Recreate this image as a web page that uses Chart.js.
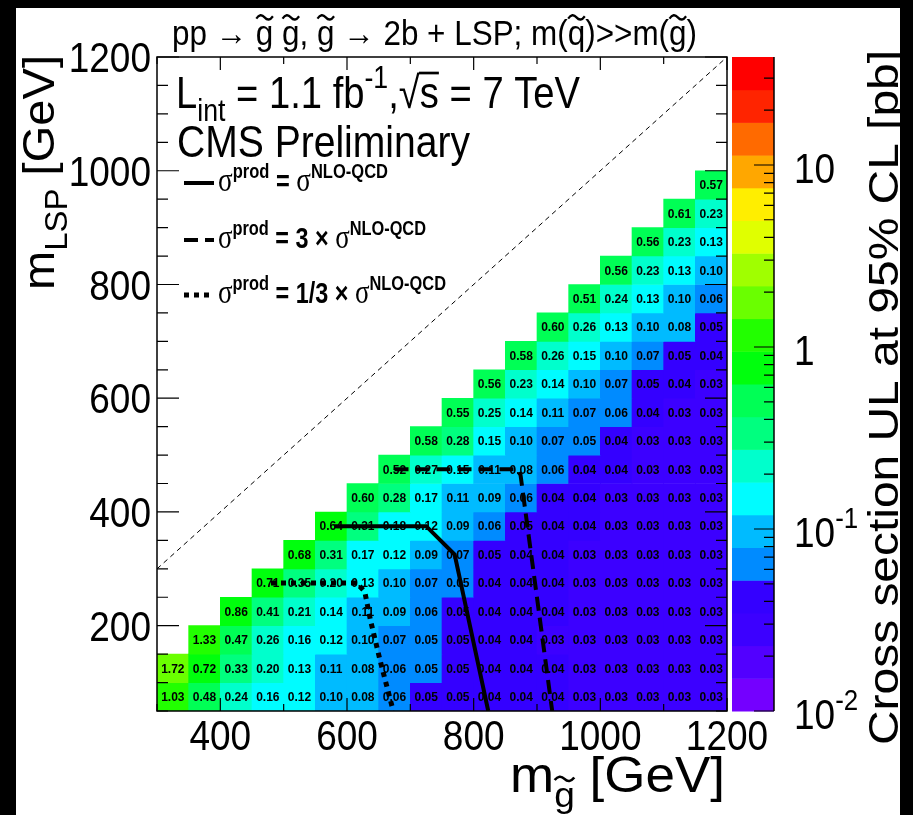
<!DOCTYPE html>
<html>
<head>
<meta charset="utf-8">
<script src="https://cdn.jsdelivr.net/npm/chart.js@4.4.1/dist/chart.umd.min.js"></script>
<style>
  html, body { margin: 0; padding: 0; background: #000; }
  canvas { display: block; }
</style>
</head>
<body>
<canvas id="ulChart" width="913" height="815"></canvas>
<script>
// gluino / LSP mass bin centres in GeV, bins are 50 GeV wide
const gluinoMass = [325, 375, 425, 475, 525, 575, 625, 675, 725, 775, 825, 875, 925, 975, 1025, 1075, 1125, 1175];
const lspMass = [75, 125, 175, 225, 275, 325, 375, 425, 475, 525, 575, 625, 675, 725, 775, 825, 875, 925, 975];
const binWidth = 50;

// cross section UL [pb], one row per LSP mass (bottom to top), one column per gluino mass
// (a few printed "0.05" cells are coloured like 0.06 in the reference, so they sit just above 0.05)
const _ = null;
const upperLimit = [
  [1.03, 0.48, 0.24, 0.16, 0.12, 0.10, 0.08, 0.06, 0.05, 0.05, 0.04, 0.04, 0.04, 0.03, 0.03, 0.03, 0.03, 0.03],
  [1.72, 0.72, 0.33, 0.20, 0.13, 0.11, 0.08, 0.06, 0.053, 0.05, 0.04, 0.04, 0.04, 0.03, 0.03, 0.03, 0.03, 0.03],
  [_, 1.33, 0.47, 0.26, 0.16, 0.12, 0.10, 0.07, 0.053, 0.05, 0.04, 0.04, 0.03, 0.03, 0.03, 0.03, 0.03, 0.03],
  [_, _, 0.86, 0.41, 0.21, 0.14, 0.11, 0.09, 0.06, 0.05, 0.04, 0.04, 0.04, 0.03, 0.03, 0.03, 0.03, 0.03],
  [_, _, _, 0.71, 0.35, 0.20, 0.13, 0.10, 0.07, 0.053, 0.04, 0.04, 0.04, 0.03, 0.03, 0.03, 0.03, 0.03],
  [_, _, _, _, 0.68, 0.31, 0.17, 0.12, 0.09, 0.07, 0.05, 0.04, 0.04, 0.03, 0.03, 0.03, 0.03, 0.03],
  [_, _, _, _, _, 0.64, 0.31, 0.18, 0.12, 0.09, 0.06, 0.05, 0.04, 0.04, 0.03, 0.03, 0.03, 0.03],
  [_, _, _, _, _, _, 0.60, 0.28, 0.17, 0.11, 0.09, 0.06, 0.04, 0.04, 0.03, 0.03, 0.03, 0.03],
  [_, _, _, _, _, _, _, 0.52, 0.27, 0.15, 0.11, 0.08, 0.06, 0.04, 0.04, 0.03, 0.03, 0.03],
  [_, _, _, _, _, _, _, _, 0.58, 0.28, 0.15, 0.10, 0.07, 0.053, 0.04, 0.03, 0.03, 0.03],
  [_, _, _, _, _, _, _, _, _, 0.55, 0.25, 0.14, 0.11, 0.07, 0.06, 0.04, 0.03, 0.03],
  [_, _, _, _, _, _, _, _, _, _, 0.56, 0.23, 0.14, 0.10, 0.07, 0.05, 0.04, 0.03],
  [_, _, _, _, _, _, _, _, _, _, _, 0.58, 0.26, 0.15, 0.10, 0.07, 0.05, 0.04],
  [_, _, _, _, _, _, _, _, _, _, _, _, 0.60, 0.26, 0.13, 0.10, 0.08, 0.05],
  [_, _, _, _, _, _, _, _, _, _, _, _, _, 0.51, 0.24, 0.13, 0.10, 0.06],
  [_, _, _, _, _, _, _, _, _, _, _, _, _, _, 0.56, 0.23, 0.13, 0.10],
  [_, _, _, _, _, _, _, _, _, _, _, _, _, _, _, 0.56, 0.23, 0.13],
  [_, _, _, _, _, _, _, _, _, _, _, _, _, _, _, _, 0.61, 0.23],
  [_, _, _, _, _, _, _, _, _, _, _, _, _, _, _, _, _, 0.57]
];

// exclusion contours [m_gluino, m_LSP]
const limitNominal = [[580, 375], [725, 375], [770, 325], [823, 50]];
const limitTimes3 = [[675, 475], [868, 475], [874, 465], [924, 50]];
const limitThird = [[480, 275], [615, 275], [628, 260], [637, 210], [652, 140], [673, 50]];
const diagonal = [[300, 300], [1200, 1200]];

// axes
const xTickLabels = [400, 600, 800, 1000, 1200];
const yTickLabels = [200, 400, 600, 800, 1000, 1200];
const zMin = 0.01, zMax = 39.2, nContours = 20;
const zTickLabels = [0.01, 0.1, 1, 10];

// one colour per contour band, bottom to top
const bandColors = ['#7400ff', '#5200ff', '#3c00ff', '#3400ff', '#008bff', '#00bbff', '#00fcff', '#00ffcc',
  '#00ff7f', '#00ff55', '#00ff0d', '#22ff00', '#6aff00', '#a0ff00', '#e0ff00', '#ffee00', '#ffa700',
  '#ff6a00', '#ff2400', '#ff0000'];

const SY = 1.15; // glyphs in the reference are a little taller than wide
const SANS = '"Liberation Sans", Arial, Helvetica, sans-serif';
const SERIF = '"Liberation Serif", "Times New Roman", serif';

function bandOf(v) {
  const b = Math.floor((Math.log10(v) - Math.log10(zMin)) / (Math.log10(zMax) - Math.log10(zMin)) * nContours);
  return Math.max(0, Math.min(nContours - 1, b));
}

const cells = [];
upperLimit.forEach((row, i) => {
  row.forEach((v, j) => {
    if (v === null) return;
    cells.push({ x: gluinoMass[j], y: [lspMass[i] - binWidth / 2, lspMass[i] + binWidth / 2], v: v });
  });
});
const toXY = pts => pts.map(p => ({ x: p[0], y: p[1] }));

function fontOf(p, F) {
  return (p.b ? 'bold ' : '') + ((p.s || 1) * F) + 'px ' + (p.serif ? SERIF : SANS);
}
// text with sub/superscripts, stretched vertically like the reference
function drawRich(c, parts, o) {
  const F = o.size;
  let w = 0;
  const widths = parts.map(p => {
    c.font = fontOf(p, F);
    const m = c.measureText(p.t).width;
    w += m;
    return m;
  });
  const sy = o.sy || SY;
  const sx = o.width ? o.width / (w * (o.rotate ? sy : 1)) : 1;
  c.save();
  c.translate(o.x, o.y);
  if (o.rotate) { c.scale(1, sy); c.rotate(-Math.PI / 2); c.scale(sx, 1); }
  else c.scale(sx, sy);
  let x = o.align === 'right' ? -w : (o.align === 'center' ? -w / 2 : 0);
  c.fillStyle = '#000';
  c.strokeStyle = '#000';
  c.textAlign = 'left';
  c.textBaseline = 'alphabetic';
  parts.forEach((p, i) => {
    const size = (p.s || 1) * F;
    const dy = (p.dy || 0) * F;
    c.font = fontOf(p, F);
    c.fillText(p.t, x, dy);
    if (p.tilde) {
      const tw = widths[i] * 0.95, x0 = x + (widths[i] - tw) / 2, ty = dy - 0.8 * size, a = 0.07 * size;
      c.lineWidth = 0.07 * size;
      c.beginPath();
      c.moveTo(x0, ty + a * 0.5);
      c.quadraticCurveTo(x0 + tw / 4, ty - 2 * a, x0 + tw / 2, ty);
      c.quadraticCurveTo(x0 + 3 * tw / 4, ty + 2 * a, x0 + tw, ty - a * 0.5);
      c.stroke();
    }
    if (p.over) {
      c.lineWidth = 0.06 * size;
      c.beginPath();
      c.moveTo(x - 0.02 * size, dy - p.over * size);
      c.lineTo(x + widths[i], dy - p.over * size);
      c.stroke();
    }
    x += widths[i];
  });
  c.restore();
}
const sup = t => ({ t: t, s: 0.7, dy: -0.45 });
const sub = t => ({ t: t, s: 0.7, dy: 0.3 });

const decor = {
  id: 'decor',
  beforeDraw(chart) {
    const c = chart.ctx;
    c.save();
    c.fillStyle = '#000';
    c.fillRect(0, 0, chart.width, chart.height);
    c.fillStyle = '#fff';
    c.fillRect(16, 8, 884, 807);
    c.restore();
  },
  afterDatasetDraw(chart, args) {
    if (args.index !== 0) return;
    const c = chart.ctx;
    const ds = chart.data.datasets[0].data;
    c.save();
    c.fillStyle = '#000';
    c.font = 'bold 12px ' + SANS;
    c.textAlign = 'center';
    c.textBaseline = 'middle';
    args.meta.data.forEach((el, i) => {
      c.fillText(ds[i].v.toFixed(2), el.x, (el.y + el.base) / 2 + 1);
    });
    c.restore();
  },
  afterDraw(chart) {
    const c = chart.ctx;
    const a = chart.chartArea;
    const xs = chart.scales.x, ys = chart.scales.y, zs = chart.scales.z;
    const LF = 37, capOff = 0.716 * LF * SY / 2;
    c.save();
    // frame and ticks
    c.strokeStyle = '#000';
    c.lineWidth = 1.5;
    c.strokeRect(a.left, a.top, a.right - a.left, a.bottom - a.top);
    c.lineWidth = 1.2;
    c.beginPath();
    xs.ticks.forEach(t => {
      const px = xs.getPixelForValue(t.value);
      const len = t.value % 200 === 0 ? 13 : 7;
      c.moveTo(px, a.bottom); c.lineTo(px, a.bottom - len);
      c.moveTo(px, a.top); c.lineTo(px, a.top + len);
    });
    ys.ticks.forEach(t => {
      const py = ys.getPixelForValue(t.value);
      const len = t.value % 200 === 0 ? 22 : 11;
      c.moveTo(a.left, py); c.lineTo(a.left + len, py);
      c.moveTo(a.right, py); c.lineTo(a.right - len, py);
    });
    c.stroke();
    xTickLabels.forEach(v => {
      drawRich(c, [{ t: String(v) }], { x: xs.getPixelForValue(v), y: 750, size: LF, align: 'center' });
    });
    yTickLabels.forEach(v => {
      drawRich(c, [{ t: String(v) }], { x: 151, y: ys.getPixelForValue(v) + capOff, size: LF, align: 'right' });
    });

    // colour bar on the z scale
    const cbL = 732, cbR = 774;
    const l0 = Math.log10(zMin), l1 = Math.log10(zMax);
    for (let b = 0; b < nContours; b++) {
      const lo = zs.getPixelForValue(Math.pow(10, l0 + (l1 - l0) * b / nContours));
      const hi = zs.getPixelForValue(Math.pow(10, l0 + (l1 - l0) * (b + 1) / nContours));
      c.fillStyle = bandColors[b];
      c.fillRect(cbL, hi, cbR - cbL, lo - hi + 0.5);
    }
    c.strokeStyle = '#000';
    c.lineWidth = 1.5;
    c.beginPath();
    c.moveTo(cbR, zs.getPixelForValue(zMin)); c.lineTo(cbR, zs.getPixelForValue(zMax));
    c.stroke();
    c.lineWidth = 1.2;
    c.beginPath();
    for (let d = -2; d <= 1; d++) {
      for (let m = 1; m <= 9; m++) {
        const v = m * Math.pow(10, d);
        if (v > zMax) continue;
        const py = zs.getPixelForValue(v);
        c.moveTo(cbR, py); c.lineTo(cbR - (m === 1 ? 20 : 10), py);
      }
    }
    c.stroke();
    zTickLabels.forEach(v => {
      const e = Math.round(Math.log10(v));
      const parts = e >= 0 ? [{ t: String(Math.round(v)) }] : [{ t: '10' }, sup(String(e))];
      drawRich(c, parts, { x: 794, y: zs.getPixelForValue(v) + capOff + 3, size: LF });
    });

    // titles
    const gt = s => ({ t: 'g', s: s, tilde: true });
    drawRich(c, [{ t: 'pp \u2192 ' }, gt(1), { t: ' ' }, gt(1), { t: ', ' }, gt(1), { t: ' \u2192 2b + LSP; m(' },
      { t: 'q', tilde: true }, { t: ')>>m(' }, gt(1), { t: ')' }],
      { x: 172, y: 45, size: 30, width: 525 });
    drawRich(c, [{ t: 'L' }, sub('int'), { t: ' = 1.1 fb' }, sup('-1'), { t: ',\u221A' }, { t: 's', over: 0.78 }, { t: ' = 7 TeV' }],
      { x: 176, y: 108, size: 39, width: 404 });
    drawRich(c, [{ t: 'CMS Preliminary' }], { x: 177, y: 157, size: 39, width: 293 });
    drawRich(c, [{ t: 'm' }, sub('LSP'), { t: ' [GeV]' }], { x: 54, y: 55, size: 44, align: 'right', rotate: true, width: 235 });
    drawRich(c, [{ t: 'm' }, { t: 'g', s: 0.7, dy: 0.3, tilde: true }, { t: ' [GeV]' }], { x: 725, y: 792, size: 44, align: 'right', width: 215 });
    drawRich(c, [{ t: 'Cross section UL at 95% CL [pb]' }], { x: 898, y: 50, size: 42, align: 'right', rotate: true, width: 695 });

    // legend for the contours
    const sig = { t: '\u03C3', serif: true, s: 1.15 };
    const pr = { t: 'prod', b: true, s: 0.7, dy: -0.45 };
    const nlo = { t: 'NLO-QCD', b: true, s: 0.7, dy: -0.45 };
    const legend = [
      { y: 183, dash: [], w: 4, parts: [sig, pr, { t: ' = ', b: true }, sig, nlo], tw: 170 },
      { y: 240, dash: [14, 7], w: 4, parts: [sig, pr, { t: ' = 3 \u00D7 ', b: true }, sig, nlo], tw: 208 },
      { y: 295, dash: [5, 5], w: 5, parts: [sig, pr, { t: ' = 1/3 \u00D7 ', b: true }, sig, nlo], tw: 228 }
    ];
    legend.forEach(e => {
      c.save();
      c.strokeStyle = '#000';
      c.lineWidth = e.w;
      c.setLineDash(e.dash);
      c.beginPath();
      c.moveTo(184, e.y); c.lineTo(214, e.y);
      c.stroke();
      c.restore();
      drawRich(c, e.parts, { x: 218, y: e.y + 8, size: 23, width: e.tw, sy: 1.25 });
    });
    c.restore();
  }
};

new Chart(document.getElementById('ulChart'), {
  type: 'bar',
  data: {
    datasets: [
      {
        type: 'bar',
        data: cells,
        backgroundColor: cells.map(d => bandColors[bandOf(d.v)]),
        borderWidth: 0,
        barPercentage: 1,
        categoryPercentage: 1,
        grouped: false,
        order: 10
      },
      { type: 'line', data: toXY(diagonal), borderColor: '#000', borderWidth: 1, borderDash: [5, 4], pointRadius: 0, order: 4 },
      { type: 'line', data: toXY(limitNominal), borderColor: '#000', borderWidth: 4, pointRadius: 0, order: 3 },
      { type: 'line', data: toXY(limitTimes3), borderColor: '#000', borderWidth: 4, borderDash: [14, 7], pointRadius: 0, order: 2 },
      { type: 'line', data: toXY(limitThird), borderColor: '#000', borderWidth: 5, borderDash: [5, 5], pointRadius: 0, order: 1 }
    ]
  },
  options: {
    responsive: false,
    animation: false,
    events: [],
    layout: { padding: { left: 157, top: 57, right: 186, bottom: 104 } },
    scales: {
      x: { type: 'linear', min: 300, max: 1200, offset: false, display: false, ticks: { stepSize: 50 } },
      y: { type: 'linear', min: 50, max: 1200, display: false, ticks: { stepSize: 50 } },
      z: { type: 'logarithmic', min: zMin, max: zMax, display: false, position: 'right', bounds: 'data' }
    },
    plugins: { legend: { display: false }, tooltip: { enabled: false } }
  },
  plugins: [decor]
});
</script>
</body>
</html>
